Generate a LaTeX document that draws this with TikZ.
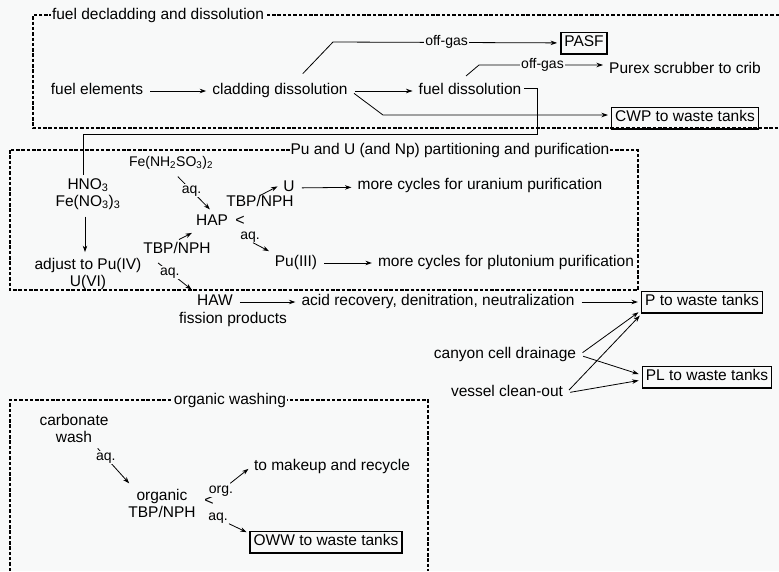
\documentclass[tikz,border=0pt]{standalone}
\usepackage{fontspec}
\setmainfont{Liberation Sans}
\usetikzlibrary{arrows.meta,calc}
\definecolor{bg}{HTML}{F8F9F9}
\tikzset{
  txt/.style={font=\fontsize{15.5}{17}\selectfont, inner sep=3pt,
              text height=11pt, text depth=3.5pt},
  txt2/.style={font=\fontsize{15.5}{17}\selectfont, inner sep=3pt, align=center},
  lbl/.style={font=\fontsize{14}{15}\selectfont, inner sep=1pt, fill=bg,
              text height=8.5pt, text depth=2.5pt},
  split/.style={font=\fontsize{16}{17}\selectfont, inner sep=0pt},
  tank/.style={draw, line width=1.5pt, font=\fontsize{15.5}{17}\selectfont,
               inner sep=3.5pt, text height=11pt, text depth=3.5pt},
  grp/.style={line width=1.2pt, dash pattern=on 3.5pt off 1.8pt},
  grptitle/.style={fill=bg, inner sep=1pt, font=\fontsize{15.5}{17}\selectfont},
  ar/.style={-{Stealth[length=6.5pt,width=4.5pt]}, line width=0.8pt,
             shorten >=3pt, shorten <=4pt},
  ln/.style={line width=0.8pt}
}

\begin{document}
\begin{tikzpicture}[x=1pt,y=-1pt]
  \fill[bg] (0,0) rectangle (779,571);
  \useasboundingbox (0,0) rectangle (779,571);

  % group frames
  \draw[grp] (779,15) -- (33,15) -- (33,128) -- (779,128);
  \draw[grp] (10,150) rectangle (638,290);
  \draw[grp] (10,571) -- (10,400) -- (428,400) -- (428,571);
  \node[grptitle] (t1) at (158,15) {fuel decladding and dissolution};
  \node[grptitle] (t2) at (450,150) {Pu and U (and Np) partitioning and purification};
  \node[grptitle] (t3) at (230,400) {organic washing};

  % decladding and dissolution
  \node[txt] (fuel) at (97,91) {fuel elements};
  \node[txt] (clad) at (280,91) {cladding dissolution};
  \node[txt] (fdis) at (470,91) {fuel dissolution};
  \node[tank] (pasf) at (584,43) {PASF};
  \node[txt] (purex) at (685,70) {Purex scrubber to crib};
  \node[tank] (cwp) at (685,118) {CWP to waste tanks};
  \coordinate (bend1) at (333,42);
  \coordinate (bend2) at (479,65);
  \coordinate (bend3) at (383,115);
  \coordinate (loop) at (537,134);

  \draw[ar] (fuel) -- (clad);
  \draw[ar] (clad) -- (fdis);
  \draw[ar] ([xshift=20pt,yshift=4pt]clad.north) -- (bend1) -- node[lbl]{off-gas} (pasf);
  \draw[ar] (clad.east) -- (bend3) -- (cwp.west |- bend3);
  \draw[ar] ([xshift=-7pt,yshift=2pt]fdis.north) -- (bend2) -- node[lbl]{off-gas} (purex.west |- bend2);

  % partitioning and purification
  \node[txt2] (hno) at (88,194) {HNO\textsubscript{3}\\Fe(NO\textsubscript{3})\textsubscript{3}};
  \node[txt2] (adj) at (88,274) {adjust to Pu(IV)\\U(VI)};
  \draw[ln] ([yshift=3pt]fdis.east) -| (loop) -| ([xshift=-5pt]hno.north);
  \draw[ar] ([xshift=-3pt]hno.south) -- ([xshift=-3pt]adj.north);

  \node[font=\fontsize{14}{15}\selectfont, inner sep=1pt] (sulf) at (171,163)
    {Fe(NH\textsubscript{2}SO\textsubscript{3})\textsubscript{2}};
  \node[txt] (hap) at (212,222) {HAP};
  \node[txt] (tbpa) at (177,250) {TBP/NPH};
  \node[txt] (tbpb) at (260,203) {TBP/NPH};
  \node[txt] (u) at (289,188) {U};
  \node[txt] (pu) at (296,263) {Pu(III)};
  \node[txt] (ucyc) at (480,186) {more cycles for uranium purification};
  \node[txt] (pucyc) at (506,263) {more cycles for plutonium purification};
  \node[split] (split1) at (240,221) {<};
  \node[lbl] (aqpu) at (250,236) {aq.};
  \node[txt] (haw) at (215,302) {HAW};
  \node[txt] (fiss) at (233,320) {fission products};
  \node[txt] (acid) at (438,302) {acid recovery, denitration, neutralization};
  \node[tank] (ptank) at (702,302) {P to waste tanks};

  \draw[ar] ([xshift=4pt,yshift=-3pt]sulf.south) -- node[lbl,pos=0.45]{aq.} (hap.north);
  \draw[ar, shorten <=0pt, shorten >=1pt] ([xshift=2pt]tbpa.north) -- (hap.south west);
  \draw[ar, shorten <=0pt] ([yshift=-3pt]tbpb.north) -- ([yshift=3pt]u.west);
  \draw[ar, shorten <=0pt] ([xshift=3pt]aqpu.south) -- (pu.north west);
  \draw[ar] ([xshift=-22pt]tbpa.south) -- node[lbl,pos=0.38]{aq.} (haw.north west);
  \draw[ar] (u) -- (ucyc);
  \draw[ar] (pu) -- (pucyc);
  \draw[ar] (haw) -- (acid);
  \draw[ar] (acid) -- (ptank);

  % drains to tanks
  \node[txt] (canyon) at (505,355) {canyon cell drainage};
  \node[txt] (vessel) at (507,393) {vessel clean-out};
  \node[tank] (pltank) at (707,377) {PL to waste tanks};
  \draw[ar] (canyon.east) -- ([yshift=3pt]ptank.south west);
  \draw[ar] (canyon.east) -- ([yshift=2pt]pltank.west);
  \draw[ar] (vessel.east) -- ([xshift=1pt]ptank.south west);
  \draw[ar] (vessel.east) -- ([yshift=-3pt]pltank.west);

  % organic washing
  \node[txt2] (carb) at (74,428) {carbonate\\wash};
  \node[txt2] (org) at (162,503) {organic\\TBP/NPH};
  \node[split] (split2) at (209,501) {<};
  \node[lbl] (orgl) at (221,490) {org.};
  \node[lbl] (aqw) at (218,517) {aq.};
  \node[txt] (makeup) at (332,467) {to makeup and recycle};
  \node[tank] (oww) at (326,542) {OWW to waste tanks};
  \draw[ar] ([xshift=21pt]carb.south) -- node[lbl,pos=0.3]{aq.} ([xshift=6pt]org.north west);
  \draw[ar, shorten <=0pt] ([xshift=-4pt]orgl.north east) -- (makeup.west);
  \draw[ar, shorten <=0pt] (aqw.south east) -- ([yshift=-3pt]oww.north west);
\end{tikzpicture}
\end{document}
